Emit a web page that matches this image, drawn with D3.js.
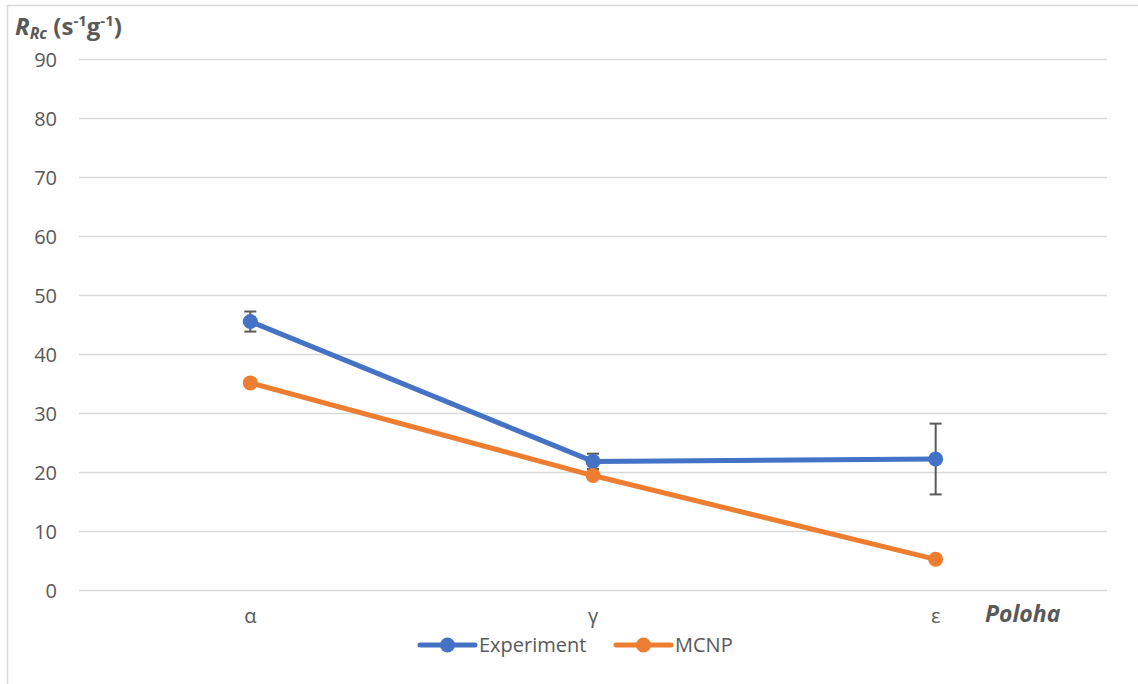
<!DOCTYPE html>
<html><head><meta charset="utf-8">
<script src="https://cdn.jsdelivr.net/npm/d3@7"></script>
<style>body{margin:0;background:#fff}svg{display:block}text{font-family:"Open Sans","Liberation Sans",sans-serif;fill:#595959}</style>
</head><body><svg id="c" width="1138" height="684"></svg>
<script>
const categories = ["α", "γ", "ε"];
const experiment = [45.5, 21.8, 22.2];
const experimentErr = [1.7, 1.3, 6.0];
const mcnp = [35.1, 19.4, 5.2];
const yTicks = [0, 10, 20, 30, 40, 50, 60, 70, 80, 90];
const seriesNames = ["Experiment", "MCNP"];
const colors = ["#4472C4", "#ED7D31"];

const svg = d3.select("#c");
svg.append("path").attr("d", "M7.5,684 V5.5 H1138").attr("fill", "none").attr("stroke", "#d9d9d9").attr("stroke-width", 1.5);

const x = d3.scaleBand().domain(categories).range([79, 1107]);
const y = d3.scaleLinear().domain([0, 90]).range([590, 59]);

const yAxis = svg.append("g").attr("transform", "translate(79,0)")
  .call(d3.axisLeft(y).tickValues(yTicks).tickSize(-1028).tickPadding(22));
yAxis.select(".domain").remove();
yAxis.selectAll("line").attr("stroke", "#d9d9d9").attr("stroke-width", 1.3);
yAxis.selectAll("text").style("font-size", "20px").attr("fill", "#595959").attr("dy", "0.35em");

const xAxis = svg.append("g").attr("transform", "translate(0,590)")
  .call(d3.axisBottom(x).tickSize(0).tickPadding(19));
xAxis.select(".domain").remove();
xAxis.selectAll("text").style("font-size", "20px").attr("fill", "#595959");

const cx = d => x(d) + x.bandwidth() / 2;
const line = d3.line().x((d, i) => cx(categories[i])).y(d => y(d));

[experiment, mcnp].forEach((s, k) => {
  svg.append("path").datum(s).attr("d", line).attr("fill", "none")
    .attr("stroke", colors[k]).attr("stroke-width", 5).attr("stroke-linejoin", "round").attr("stroke-linecap", "round");
});

const eg = svg.append("g").attr("stroke", "#595959").attr("stroke-width", 2);
categories.forEach((c, i) => {
  const px = cx(c), t = y(experiment[i] + experimentErr[i]), b = y(experiment[i] - experimentErr[i]);
  eg.append("line").attr("x1", px).attr("x2", px).attr("y1", t).attr("y2", b);
  eg.append("line").attr("x1", px - 6).attr("x2", px + 6).attr("y1", t).attr("y2", t);
  eg.append("line").attr("x1", px - 6).attr("x2", px + 6).attr("y1", b).attr("y2", b);
});

[experiment, mcnp].forEach((s, k) => {
  svg.append("g").selectAll("circle").data(s).join("circle")
    .attr("cx", (d, i) => cx(categories[i])).attr("cy", d => y(d)).attr("r", 7.5).attr("fill", colors[k]);
});

const yt = svg.append("text").attr("x", 15).attr("y", 35).style("font-size", "24px").style("font-weight", "bold");
yt.append("tspan").text("R").style("font-style", "italic");
yt.append("tspan").text("Rc").style("font-style", "italic").style("font-size", "16px").attr("dy", 4);
yt.append("tspan").text(" (s").attr("dy", -4);
yt.append("tspan").text("-1").style("font-size", "15px").attr("dy", -9);
yt.append("tspan").text("g").attr("dy", 9);
yt.append("tspan").text("-1").style("font-size", "15px").attr("dy", -9);
yt.append("tspan").text(")").attr("dy", 9);

svg.append("text").attr("x", 985).attr("y", 622).text("Poloha")
  .style("font-size", "23px").style("font-weight", "bold").style("font-style", "italic");

const lg = svg.append("g");
const legX = [420, 616];
seriesNames.forEach((n, k) => {
  const g = lg.append("g").attr("transform", `translate(${legX[k]},645)`);
  g.append("line").attr("x1", 0).attr("x2", 55).attr("stroke", colors[k]).attr("stroke-width", 5).attr("stroke-linecap", "round");
  g.append("circle").attr("cx", 27.5).attr("r", 7.5).attr("fill", colors[k]);
  g.append("text").attr("x", 59).attr("dy", "0.35em").text(n).style("font-size", "20px");
});
</script></body></html>
